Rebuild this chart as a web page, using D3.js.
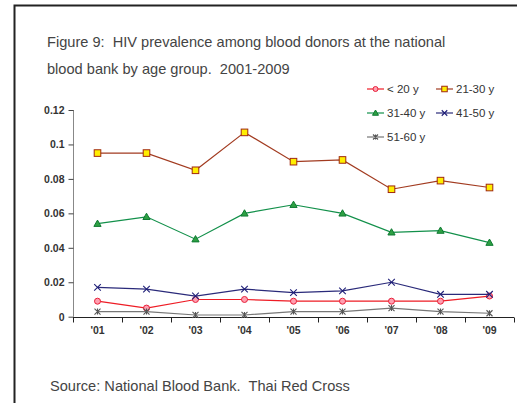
<!DOCTYPE html>
<html><head><meta charset="utf-8">
<script src="https://cdn.jsdelivr.net/npm/d3@7"></script>
<style>body{margin:0;background:#fff}svg{display:block;font-family:Arial,"Liberation Sans",sans-serif}text{white-space:pre}</style>
</head><body><svg id="c" width="517" height="403"></svg>
<script>
const years = ["'01","'02","'03","'04","'05","'06","'07","'08","'09"];
const seriesNames = ["< 20 y","21-30 y","31-40 y","41-50 y","51-60 y"];
const lt20 = [0.009,0.005,0.010,0.010,0.009,0.009,0.009,0.009,0.012];
const y21_30 = [0.095,0.095,0.085,0.107,0.090,0.091,0.074,0.079,0.075];
const y31_40 = [0.054,0.058,0.045,0.060,0.065,0.060,0.049,0.050,0.043];
const y41_50 = [0.017,0.016,0.012,0.016,0.014,0.015,0.020,0.013,0.013];
const y51_60 = [0.003,0.003,0.001,0.001,0.003,0.003,0.005,0.003,0.002];
const yTicks = [0,0.02,0.04,0.06,0.08,0.1,0.12];
const yTickLabels = ["0","0.02","0.04","0.06","0.08","0.1","0.12"];

const styles = [
  {line:"#ee1c25", fill:"#ff9fb0", stroke:"#e8203a", sym:"circle"},
  {line:"#a23b20", fill:"#ffee00", stroke:"#a02810", sym:"square"},
  {line:"#12904a", fill:"#2ea043", stroke:"#0e7a32", sym:"triangle"},
  {line:"#2a2a7a", fill:"none", stroke:"#1f1f78", sym:"x"},
  {line:"#777777", fill:"none", stroke:"#555555", sym:"star"}
];
const data = [lt20,y21_30,y31_40,y41_50,y51_60];

const svg = d3.select("#c");
svg.append("rect").attr("x",14.5).attr("y",5.5).attr("width",560).attr("height",450)
  .attr("fill","none").attr("stroke","#222").attr("stroke-width",2);

const t = svg.append("text").attr("fill","#444").attr("font-size",14.6);
t.append("tspan").attr("x",47).attr("y",47).text("Figure 9:  HIV prevalence among blood donors at the national");
t.append("tspan").attr("x",47).attr("y",74).text("blood bank by age group.  2001-2009");

svg.append("text").attr("x",50).attr("y",391).attr("fill","#444").attr("font-size",14.6)
  .text("Source: National Blood Bank.  Thai Red Cross");

const x = d3.scaleBand().domain(years).range([73,514]);
const y = d3.scaleLinear().domain([0,0.12]).range([316.7,110]);

const ya = svg.append("g").attr("transform","translate(73.5,0)")
  .call(d3.axisLeft(y).tickValues(yTicks).tickFormat((d,i)=>yTickLabels[i]).tickSize(5).tickPadding(4));
ya.select(".domain").attr("stroke","#888").attr("d","M0,110V316.7");
ya.selectAll(".tick line").attr("stroke","#444");
ya.selectAll("text").attr("font-size",10.5).attr("font-weight","bold").attr("fill","#333").attr("font-family","Arial,'Liberation Sans',sans-serif");

const xa = svg.append("g").attr("transform","translate(0,317.5)")
  .call(d3.axisBottom(x).tickSize(0).tickPadding(9));
xa.select(".domain").attr("stroke","#222").attr("d","M73,0H514");
xa.selectAll("text").attr("font-size",10.5).attr("font-weight","bold").attr("fill","#333").attr("font-family","Arial,'Liberation Sans',sans-serif");
const bounds = years.map(d=>x(d)).concat([x.range()[1]]);
xa.selectAll(".bt").data(bounds).join("line").attr("class","bt")
  .attr("x1",d=>Math.round(d)+0.5).attr("x2",d=>Math.round(d)+0.5).attr("y1",0).attr("y2",5).attr("stroke","#222");

function marker(g, s, cx, cy, size){
  if(s.sym==="circle") g.append("circle").attr("cx",cx).attr("cy",cy).attr("r",size*0.5).attr("fill",s.fill).attr("stroke",s.stroke).attr("stroke-width",1);
  else if(s.sym==="square") g.append("rect").attr("x",cx-size*0.55).attr("y",cy-size*0.55).attr("width",size*1.1).attr("height",size*1.1).attr("fill",s.fill).attr("stroke",s.stroke).attr("stroke-width",1);
  else if(s.sym==="triangle") g.append("path").attr("d",`M${cx},${cy-size*0.6}L${cx+size*0.6},${cy+size*0.45}L${cx-size*0.6},${cy+size*0.45}Z`).attr("fill",s.fill).attr("stroke",s.stroke).attr("stroke-width",1);
  else if(s.sym==="x") g.append("path").attr("d",`M${cx-size*0.55},${cy-size*0.55}L${cx+size*0.55},${cy+size*0.55}M${cx-size*0.55},${cy+size*0.55}L${cx+size*0.55},${cy-size*0.55}`).attr("stroke",s.stroke).attr("stroke-width",1.1);
  else { const r=size*0.5; g.append("path").attr("d",`M${cx-r},${cy-r}L${cx+r},${cy+r}M${cx-r},${cy+r}L${cx+r},${cy-r}M${cx},${cy-r}L${cx},${cy+r}`).attr("stroke",s.stroke).attr("stroke-width",1.1); }
}

const line = d3.line().x((d,i)=>x(years[i])+x.bandwidth()/2).y(d=>y(d));
data.forEach((vals,k)=>{
  const s = styles[k];
  const g = svg.append("g");
  g.append("path").attr("d",line(vals)).attr("fill","none").attr("stroke",s.line).attr("stroke-width",1.2);
  vals.forEach((v,i)=>marker(g,s,x(years[i])+x.bandwidth()/2,y(v),6));
});

const legPos = [[367,89],[436,89],[367,113],[436,113],[367,137]];
seriesNames.forEach((n,k)=>{
  const s = styles[k];
  const [lx,ly] = legPos[k];
  const g = svg.append("g");
  g.append("line").attr("x1",lx).attr("x2",lx+17).attr("y1",ly).attr("y2",ly).attr("stroke",s.line).attr("stroke-width",1.2);
  marker(g,s,lx+8.5,ly,5);
  g.append("text").attr("x",lx+20).attr("y",ly+4).attr("font-size",11.5).attr("fill","#333").text(n);
});
</script></body></html>
